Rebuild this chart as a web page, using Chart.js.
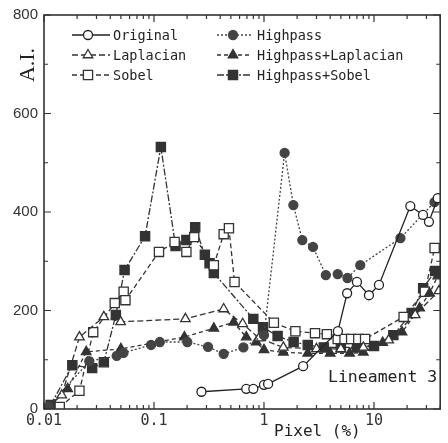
<!DOCTYPE html>
<html>
<head>
<meta charset="utf-8">
<script src="https://cdn.jsdelivr.net/npm/chart.js@4.4.0/dist/chart.umd.min.js"></script>
<style>
  body { margin: 0; background: #fff; }
</style>
</head>
<body>
<canvas id="chart" width="448" height="443"></canvas>
<script>
// values (x = Pixel %, y = A.I.)
const originalX = [0.27, 0.69, 0.80, 1.0, 1.09, 2.27, 4.7, 5.7, 7.0, 9.0, 11.1, 21.4, 27.9, 31.6, 38];
const originalY = [35, 41, 41, 49, 51, 87, 158, 235, 258, 231, 252, 412, 394, 380, 428];

const highpassX = [0.011, 0.0258, 0.0458, 0.0528, 0.094, 0.113, 0.201, 0.31, 0.43, 0.65, 1.0, 1.54, 1.85, 2.23, 2.79, 3.65, 4.68, 5.74, 7.5, 17.4, 35.5];
const highpassY = [5, 97, 108, 114, 130, 136, 136, 126, 112, 125, 150, 520, 414, 343, 329, 272, 274, 266, 292, 347, 420];

const laplacianX = [0.011, 0.0145, 0.021, 0.035, 0.0497, 0.193, 0.43, 0.64, 0.90, 1.5, 3, 5, 8, 13.6, 23.7, 39];
const laplacianY = [5, 28, 146, 187, 177, 183, 203, 173, 144, 125, 122, 122, 125, 140, 191, 240];

const sobelX = [0.0139, 0.021, 0.028, 0.044, 0.053, 0.055, 0.111, 0.154, 0.197, 0.232, 0.35, 0.43, 0.48, 0.54, 1.23, 1.93, 2.91, 3.73, 4.68, 5.4, 6.2, 7.2, 8.3, 18.6, 29, 35.6];
const sobelY = [4, 37, 156, 215, 238, 221, 319, 339, 319, 349, 292, 355, 367, 258, 175, 158, 154, 152, 142, 142, 142, 142, 142, 187, 238, 327];

const hpLapX = [0.011, 0.0164, 0.0242, 0.05, 0.189, 0.35, 0.53, 0.69, 0.85, 1.0, 1.5, 2.5, 4, 6, 8, 12, 18, 26, 32, 38];
const hpLapY = [5, 41, 116, 122, 146, 164, 176, 146, 136, 120, 115, 113, 113, 113, 115, 135, 156, 205, 235, 270];

const hpSobX = [0.0115, 0.0181, 0.0274, 0.035, 0.045, 0.054, 0.083, 0.1155, 0.157, 0.197, 0.237, 0.29, 0.32, 0.35, 0.8, 0.98, 1.33, 1.86, 2.5, 3.5, 5, 7, 10, 15, 22, 28, 36];
const hpSobY = [8, 89, 83, 95, 191, 282, 351, 532, 331, 343, 369, 313, 296, 276, 183, 166, 148, 136, 130, 125, 125, 125, 128, 150, 195, 245, 280];

const xLabels = ['0.01', '0.1', '1', '10'];

const pts = (xs, ys) => xs.map((x, i) => ({ x: x, y: ys[i] }));

const series = [
  { label: 'Original', data: pts(originalX, originalY), style: 'circle', filled: false, dash: [], r: 4.5, color: '#222' },
  { label: 'Highpass', data: pts(highpassX, highpassY), style: 'circle', filled: true, dash: [2, 2], r: 4.5, color: '#444' },
  { label: 'Laplacian', data: pts(laplacianX, laplacianY), style: 'triangle', filled: false, dash: [6, 3], r: 5.5, color: '#333' },
  { label: 'Highpass+Laplacian', data: pts(hpLapX, hpLapY), style: 'triangle', filled: true, dash: [4, 3], r: 5.5, color: '#333' },
  { label: 'Sobel', data: pts(sobelX, sobelY), style: 'rect', filled: false, dash: [5, 3], r: 6.5, color: '#333' },
  { label: 'Highpass+Sobel', data: pts(hpSobX, hpSobY), style: 'rect', filled: true, dash: [7, 2, 2, 2], r: 6.5, color: '#333' }
];

function drawMarker(ctx, style, x, y, r) {
  ctx.beginPath();
  if (style === 'circle') {
    ctx.arc(x, y, r, 0, Math.PI * 2);
  } else if (style === 'triangle') {
    let a = 0;
    ctx.moveTo(x + Math.sin(a) * r, y - Math.cos(a) * r);
    a += Math.PI * 2 / 3;
    ctx.lineTo(x + Math.sin(a) * r, y - Math.cos(a) * r);
    a += Math.PI * 2 / 3;
    ctx.lineTo(x + Math.sin(a) * r, y - Math.cos(a) * r);
    ctx.closePath();
  } else {
    const s = Math.SQRT1_2 * r;
    ctx.rect(x - s, y - s, 2 * s, 2 * s);
  }
}

const frame = {
  id: 'frame',
  afterDatasetsDraw(chart) {
    const { ctx, chartArea: a, scales: { x, y } } = chart;
    ctx.save();
    ctx.strokeStyle = '#333';
    ctx.lineWidth = 1.6;
    ctx.strokeRect(a.left, a.top, a.right - a.left, a.bottom - a.top);

    ctx.lineWidth = 1.2;
    ctx.beginPath();
    for (let v = 0; v <= 800; v += 100) {
      const p = y.getPixelForValue(v);
      const len = v % 200 === 0 ? 7 : 4;
      ctx.moveTo(a.left, p); ctx.lineTo(a.left + len, p);
      ctx.moveTo(a.right, p); ctx.lineTo(a.right - len, p);
    }
    for (let e = -2; e <= 1; e++) {
      for (let m = 1; m <= 9; m++) {
        const v = m * Math.pow(10, e);
        if (v > x.max) break;
        const p = x.getPixelForValue(v);
        const len = m === 1 ? 7 : 4;
        ctx.moveTo(p, a.bottom); ctx.lineTo(p, a.bottom - len);
        ctx.moveTo(p, a.top); ctx.lineTo(p, a.top + len);
      }
    }
    ctx.stroke();

    // legend
    ctx.font = '13.5px "DejaVu Sans Mono"';
    ctx.textBaseline = 'middle';
    ctx.fillStyle = '#222';
    const cols = [{ l0: 72, l1: 110, m: 88, t: 113 }, { l0: 217, l1: 251, m: 233, t: 257 }];
    const order = ['Original', 'Laplacian', 'Sobel', 'Highpass', 'Highpass+Laplacian', 'Highpass+Sobel'];
    order.forEach((name, i) => {
      const s = series.find(d => d.label === name);
      const c = cols[Math.floor(i / 3)];
      const yy = 35 + (i % 3) * 20;
      ctx.strokeStyle = s.color;
      ctx.lineWidth = 1.3;
      ctx.setLineDash(s.dash);
      ctx.beginPath();
      ctx.moveTo(c.l0, yy); ctx.lineTo(c.l1, yy);
      ctx.stroke();
      ctx.setLineDash([]);
      drawMarker(ctx, s.style, c.m, yy, s.r);
      ctx.fillStyle = s.filled ? s.color : '#fff';
      ctx.fill();
      ctx.stroke();
      ctx.fillStyle = '#222';
      ctx.textAlign = 'left';
      ctx.fillText(name, c.t, yy + 1);
    });

    // labels
    ctx.font = '16.5px "DejaVu Sans Mono"';
    ctx.fillText('Lineament 3', 328, 378);
    ctx.font = '16px "DejaVu Sans Mono"';
    ctx.fillText('Pixel (%)', 274, 432);
    ctx.translate(28, 65);
    ctx.rotate(-Math.PI / 2);
    ctx.textAlign = 'center';
    ctx.font = '22px "Liberation Serif"';
    ctx.fillText('A.I.', 0, 0);
    ctx.restore();
  }
};

new Chart(document.getElementById('chart'), {
  type: 'line',
  data: {
    datasets: series.map(s => ({
      label: s.label,
      data: s.data,
      borderColor: s.color,
      borderWidth: 1.3,
      borderDash: s.dash,
      pointStyle: s.style,
      pointRadius: s.r,
      pointBorderWidth: 1.3,
      pointBorderColor: s.color,
      pointBackgroundColor: s.filled ? s.color : '#fff',
      tension: 0
    }))
  },
  options: {
    responsive: false,
    devicePixelRatio: 1,
    animation: false,
    layout: { padding: { top: 15, right: 1, left: 0, bottom: 0 } },
    plugins: { legend: { display: false }, tooltip: { enabled: false } },
    scales: {
      x: {
        type: 'logarithmic',
        min: 0.01,
        max: 40,
        grid: { display: false, drawTicks: false },
        border: { display: false },
        ticks: {
          autoSkip: false,
          maxRotation: 0,
          padding: 3,
          color: '#333',
          font: { family: 'DejaVu Sans Mono', size: 15 },
          callback: function(v) {
            const l = Math.log10(v);
            if (Math.abs(l - Math.round(l)) < 1e-6) {
              const idx = Math.round(l) + 2;
              return xLabels[idx] !== undefined ? xLabels[idx] : '';
            }
            return '';
          }
        },
        afterFit(scale) { scale.height = 34; }
      },
      y: {
        min: 0,
        max: 800,
        grid: { display: false, drawTicks: false },
        border: { display: false },
        ticks: {
          stepSize: 200,
          padding: 6,
          color: '#333',
          font: { family: 'Liberation Sans', size: 15 }
        },
        afterFit(scale) { scale.width = 44; }
      }
    }
  },
  plugins: [frame]
});
</script>
</body>
</html>
